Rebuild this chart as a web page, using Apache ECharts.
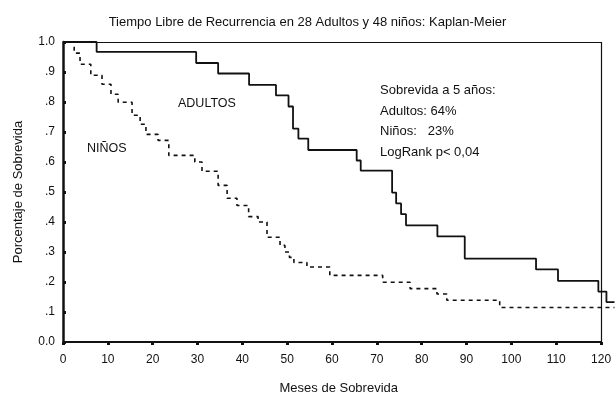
<!DOCTYPE html>
<html>
<head>
<meta charset="utf-8">
<script src="https://cdn.jsdelivr.net/npm/echarts@6/dist/echarts.min.js"></script>
<style>
  html, body { margin: 0; padding: 0; background: #fff; }
  #main { width: 615px; height: 397px; }
</style>
</head>
<body>
<div id="main"></div>
<script>
// Kaplan-Meier curves (months, survival fraction)
const adultMonths = [0, 7.5, 29.7, 34.6, 41.5, 47.5, 50.3, 51.3, 52.5, 54.7, 65.5, 66.4, 73.4, 74.3, 75.4, 76.5, 83.5, 89.6, 105.5, 110.4, 119.4, 121.2, 123];
const adultSurv = [1, 0.967, 0.93, 0.895, 0.857, 0.822, 0.785, 0.711, 0.678, 0.64, 0.605, 0.571, 0.498, 0.462, 0.426, 0.389, 0.352, 0.278, 0.242, 0.204, 0.168, 0.133, 0.133];

const childMonths = [0, 2.5, 3.8, 6.2, 8.7, 10.7, 12.3, 15.4, 17.2, 18.5, 21.2, 23.6, 29.4, 31.0, 34.6, 36.6, 38.8, 41.4, 43.5, 45.5, 48.4, 49.5, 50.5, 51.5, 54.4, 59.5, 71.3, 77.4, 83.4, 85.6, 97.4, 123];
const childSurv = [1, 0.963, 0.926, 0.889, 0.859, 0.826, 0.799, 0.756, 0.726, 0.692, 0.672, 0.622, 0.600, 0.569, 0.522, 0.479, 0.455, 0.418, 0.400, 0.349, 0.322, 0.300, 0.282, 0.265, 0.250, 0.222, 0.199, 0.178, 0.160, 0.139, 0.115, 0.115];

const xTicks = [0, 10, 20, 30, 40, 50, 60, 70, 80, 90, 100, 110, 120];
const yTickLabels = ['0.0', '.1', '.2', '.3', '.4', '.5', '.6', '.7', '.8', '.9', '1.0'];

const noteLines = ['Sobrevida a 5 años:', 'Adultos: 64%', 'Niños:   23%', 'LogRank p< 0,04'];

const FONT = 'Liberation Sans, Arial, sans-serif';
const INK = '#111';

const zip = (xs, ys) => xs.map((x, i) => [x, ys[i]]);

const chart = echarts.init(document.getElementById('main'), null, {renderer: 'canvas'});

const frame = (a, b, w) => [
    {coord: a, lineStyle: {color: INK, width: w, type: 'solid'}},
    {coord: b}
];

chart.setOption({
    animation: false,
    backgroundColor: '#fff',
    textStyle: {fontFamily: FONT, color: INK},
    title: {
        text: 'Tiempo Libre de Recurrencia en 28 Adultos y 48 niños: Kaplan-Meier',
        left: 'center',
        top: 11,
        textStyle: {fontFamily: FONT, fontSize: 13, fontWeight: 'normal', color: INK}
    },
    grid: {left: 63, top: 42, width: 551.5, height: 300, containLabel: false, outerBoundsMode: 'none'},
    xAxis: {
        type: 'value',
        min: 0,
        max: 123,
        interval: 10,
        name: 'Meses de Sobrevida',
        nameLocation: 'middle',
        nameGap: 40,
        nameTextStyle: {fontFamily: FONT, fontSize: 13, color: INK},
        axisLine: {show: false},
        axisTick: {show: true, customValues: xTicks, length: 3, lineStyle: {color: INK, width: 3}},
        axisLabel: {customValues: xTicks, margin: 12, fontFamily: FONT, fontSize: 12, color: INK},
        splitLine: {show: false}
    },
    yAxis: {
        type: 'value',
        min: 0,
        max: 1,
        interval: 0.1,
        name: 'Porcentaje de Sobrevida',
        nameLocation: 'middle',
        nameGap: 38,
        nameTextStyle: {fontFamily: FONT, fontSize: 13, color: INK},
        axisLine: {show: true, lineStyle: {color: INK, width: 2.5}},
        axisTick: {show: true, inside: true, length: 3, lineStyle: {color: INK, width: 3}},
        axisLabel: {
            margin: 8,
            fontFamily: FONT,
            fontSize: 12,
            color: INK,
            formatter: v => yTickLabels[Math.round(v * 10)]
        },
        splitLine: {show: false}
    },
    series: [
        {
            name: 'Adultos',
            type: 'line',
            step: 'end',
            symbol: 'none',
            data: zip(adultMonths, adultSurv),
            lineStyle: {color: INK, width: 1.8},
            markLine: {
                silent: true,
                symbol: 'none',
                label: {show: false},
                data: [
                    frame([0, 0], [120, 0], 1.8),
                    frame([0, 1], [120, 1], 1),
                    frame([120, 0], [120, 1], 1.2)
                ]
            }
        },
        {
            name: 'Niños',
            type: 'line',
            step: 'end',
            symbol: 'none',
            data: zip(childMonths, childSurv),
            lineStyle: {color: INK, width: 1.6, type: [4, 4]}
        }
    ],
    graphic: [
        {type: 'text', left: 178, top: 97, style: {text: 'ADULTOS', font: '12.5px ' + FONT, fill: INK}},
        {type: 'text', left: 87, top: 142, style: {text: 'NIÑOS', font: '12.5px ' + FONT, fill: INK}},
        ...noteLines.map((t, i) => ({
            type: 'text',
            left: 380,
            top: 84 + i * 20.5,
            style: {text: t, font: '13px ' + FONT, fill: INK}
        }))
    ]
});
</script>
</body>
</html>
